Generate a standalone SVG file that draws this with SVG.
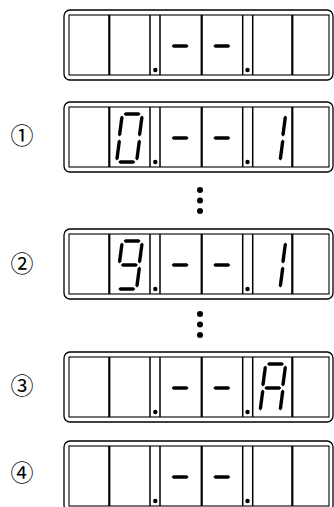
<svg xmlns="http://www.w3.org/2000/svg" xmlns:xlink="http://www.w3.org/1999/xlink" width="334" height="507" viewBox="0 0 334 507">
<style>
.outer{fill:#fff;stroke:#000;stroke-width:1.3}
.inner{fill:none;stroke:#000;stroke-width:1.1}
.div{stroke:#000;stroke-width:2.2}
.ndiv{stroke:#000;stroke-width:1.5}
.seg{fill:#000}
.lbl{font-family:"Noto Sans CJK JP","DejaVu Sans",sans-serif;font-size:23px;fill:#000;text-anchor:middle;dominant-baseline:central}
</style>
<defs>
<g id="frame">
<rect class="outer" x="64" y="0" width="269" height="70" rx="6"/>
<rect class="inner" x="69" y="5" width="260" height="60"/>
<line class="div" x1="109.3" y1="5" x2="109.3" y2="65"/>
<line class="ndiv" x1="150" y1="5" x2="150" y2="65"/>
<line class="ndiv" x1="160" y1="5" x2="160" y2="65"/>
<line class="div" x1="201.7" y1="5" x2="201.7" y2="65"/>
<line class="ndiv" x1="242.7" y1="5" x2="242.7" y2="65"/>
<line class="ndiv" x1="252.7" y1="5" x2="252.7" y2="65"/>
<line class="div" x1="292.3" y1="5" x2="292.3" y2="65"/>
<circle cx="155.3" cy="60" r="2.2" fill="#000"/>
<circle cx="247.5" cy="60" r="2.2" fill="#000"/>
<polygon class="seg" transform="translate(160,0)" points="11.6,36 13.3,34.3 26.9,34.3 28.6,36 26.9,37.7 13.3,37.7"/>
<polygon class="seg" transform="translate(201.7,0)" points="11.6,36 13.3,34.3 26.9,34.3 28.6,36 26.9,37.7 13.3,37.7"/>
</g>
<polygon id="sa" class="seg" points="14.3,12 16,10.3 29.6,10.3 31.3,12 29.6,13.7 16,13.7"/>
<polygon id="sb" class="seg" points="32.6,13.5 34.3,15.2 32.0,32.8 30.3,34.5 28.6,32.8 30.9,15.2"/>
<polygon id="sc" class="seg" points="30.0,37.5 31.7,39.2 29.4,56.8 27.7,58.5 26.0,56.8 28.3,39.2"/>
<polygon id="sd" class="seg" points="9,60 10.7,58.3 24.3,58.3 26,60 24.3,61.7 10.7,61.7"/>
<polygon id="se" class="seg" points="10,37.5 11.7,39.2 9.4,56.8 7.7,58.5 6.0,56.8 8.3,39.2"/>
<polygon id="sf" class="seg" points="12.6,13.5 14.3,15.2 12.0,32.8 10.3,34.5 8.6,32.8 10.9,15.2"/>
<polygon id="sg" class="seg" points="11.6,36 13.3,34.3 26.9,34.3 28.6,36 26.9,37.7 13.3,37.7"/>
</defs>

<g id="display-initial" transform="translate(0,10)">
<use href="#frame"/>
</g>

<g id="display-1" transform="translate(0,102)">
<use href="#frame"/>
<text class="lbl" x="22" y="32">①</text>
<g transform="translate(109.3,0)">
<use href="#sa"/><use href="#sb"/><use href="#sc"/><use href="#sd"/><use href="#se"/><use href="#sf"/>
</g>
<g transform="translate(252.7,0)">
<use href="#sb"/><use href="#sc"/>
</g>
</g>

<g id="display-2" transform="translate(0,229)">
<use href="#frame"/>
<text class="lbl" x="22" y="33">②</text>
<g transform="translate(109.3,0)">
<use href="#sa"/><use href="#sb"/><use href="#sc"/><use href="#sd"/><use href="#sf"/><use href="#sg"/>
</g>
<g transform="translate(252.7,0)">
<use href="#sb"/><use href="#sc"/>
</g>
</g>

<g id="display-3" transform="translate(0,352)">
<use href="#frame"/>
<text class="lbl" x="22" y="32">③</text>
<g transform="translate(252.7,0)">
<use href="#sa"/><use href="#sb"/><use href="#sc"/><use href="#se"/><use href="#sf"/><use href="#sg"/>
</g>
</g>

<g id="display-4" transform="translate(0,441)">
<use href="#frame"/>
<text class="lbl" x="22" y="30">④</text>
</g>

<g id="connectors" fill="#000">
<circle cx="200" cy="190" r="3"/>
<circle cx="200" cy="200.5" r="3"/>
<circle cx="200" cy="211" r="3"/>
<circle cx="200" cy="314" r="3"/>
<circle cx="200" cy="324.5" r="3"/>
<circle cx="200" cy="335" r="3"/>
</g>
</svg>
